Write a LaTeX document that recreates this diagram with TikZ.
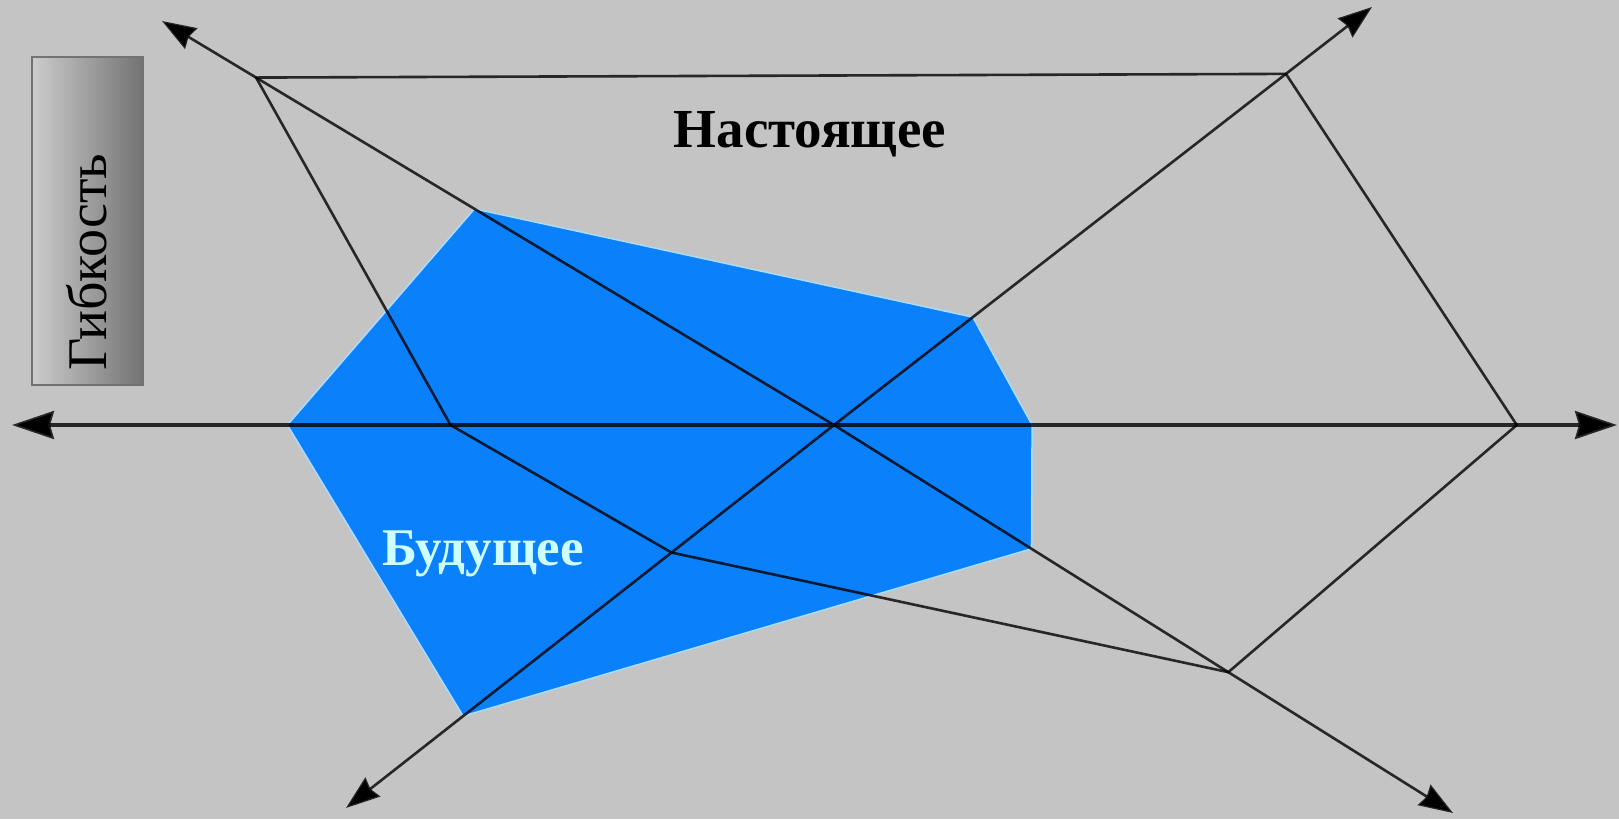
\documentclass[tikz,border=0pt]{standalone}
\usepackage{fontspec}
\setmainfont{Liberation Serif}
\usepackage{xcolor}
\usepackage{tikz}
\usetikzlibrary{positioning,arrows.meta,calc}

\definecolor{bggray}{RGB}{196,196,196}
\definecolor{futblue}{RGB}{10,128,250}
\definecolor{futedge}{RGB}{170,220,255}
\definecolor{futtext}{RGB}{205,255,255}

\begin{document}
\begin{tikzpicture}[
 x=1pt, y=-1pt,
 ray/.style={draw opacity=0.8, line width=2.6pt, {Stealth[length=34pt, width=24pt, inset=3pt]}-{Stealth[length=34pt, width=24pt, inset=3pt]}},
 mainaxis/.style={draw opacity=0.8, line width=3.5pt, {Stealth[length=42pt, width=28pt, inset=4pt]}-{Stealth[length=42pt, width=28pt, inset=4pt]}},
 nowline/.style={draw opacity=0.8, line width=2.6pt, line join=round},
 futarea/.style={fill=futblue, draw=futedge, line width=1.5pt, line join=round},
 phase/.style={font=\bfseries\fontsize{55}{62}\selectfont, inner sep=0pt, anchor=base},
 flexbox/.style={draw=black!55, line width=1.5pt, left color=black!20, middle color=black!5, right color=black!55},
 flextext/.style={rotate=90, inner sep=0pt, anchor=base west, font=\fontsize{56}{64}\selectfont}
 ]
 % Frame
 \useasboundingbox (0,0) rectangle (1619,819);
 \fill[bggray] (0,0) rectangle (1619,819);
 % Axis ends
 \coordinate (c) at (834,425);
 \coordinate (r) at (1617,425);
 \coordinate (l) at (12,425);
 \coordinate (tr) at (1372,7);
 \coordinate (tl) at (162,21);
 \coordinate (bl) at (346,808);
 \coordinate (br) at (1453,813);
 % Future profile
 \coordinate (f1) at ($(c)!0.535!(tl)$);
 \coordinate (f2) at ($(c)!0.258!(tr)$);
 \coordinate (f3) at ($(c)!0.253!(r)$);
 \coordinate (f4) at ($(c)!0.319!(br)$);
 \coordinate (f5) at ($(c)!0.76!(bl)$);
 \coordinate (f6) at ($(c)!0.665!(l)$);
 \path[futarea] (f1) -- (f2) -- (f3) -- (f4) -- (f5) -- (f6) -- cycle;
 % Present profile
 \coordinate (n1) at ($(c)!0.86!(tl)$);
 \coordinate (n2) at ($(c)!0.84!(tr)$);
 \coordinate (n3) at ($(c)!0.872!(r)$);
 \coordinate (n4) at ($(c)!0.637!(br)$);
 \coordinate (n5) at ($(c)!0.333!(bl)$);
 \coordinate (n6) at ($(c)!0.4665!(l)$);
 \draw[nowline] (n1) -- (n2) -- (n3) -- (n4) -- (n5) -- (n6) -- cycle;
 % Axes
 \draw[mainaxis] (l) -- (r);
 \draw[ray] (tl) -- (c) -- (br);
 \draw[ray] (bl) -- (c) -- (tr);
 % Labels
 \node[phase] (now) at (810,147) {Настоящее};
 \node[phase, text=futtext, font=\bfseries\fontsize{53}{60}\selectfont] (fut) at (483,565) {Будущее};
 \path[flexbox] (32,57) rectangle (143,385);
 \node[flextext] (flex) at (106,371) {Гибкость};
\end{tikzpicture}
\end{document}
